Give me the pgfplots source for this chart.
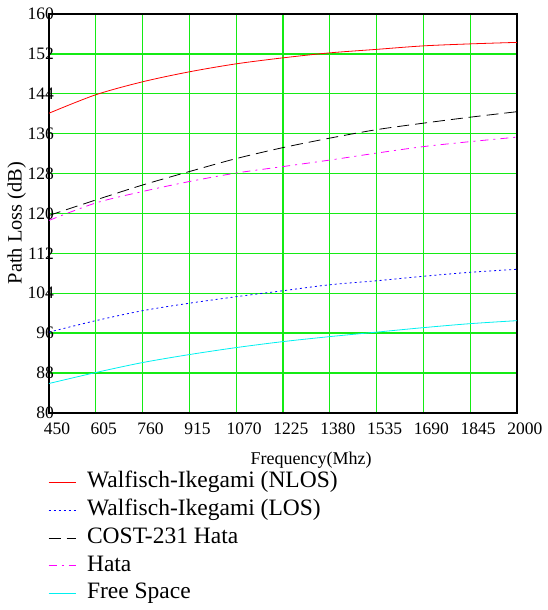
\documentclass[border=0pt]{standalone}
\usepackage{fontspec}
\setmainfont{Liberation Serif}
\usepackage{pgfplots}
\pgfplotsset{compat=1.18}

\definecolor{gridgreen}{RGB}{20,235,20}
\definecolor{nlosred}{RGB}{255,0,0}
\definecolor{losblue}{RGB}{0,0,255}
\definecolor{magentaline}{RGB}{255,0,255}
\definecolor{cyanline}{RGB}{0,240,240}

\begin{document}
\begin{tikzpicture}
\begin{axis}[
  scale only axis,
  width=468pt, height=399pt,
  xmin=450, xmax=2000, ymin=80, ymax=160,
  xtick={450,605,...,2000},
  ytick={80,88,...,160},
  grid=major,
  major grid style={gridgreen, line width=1.3pt},
  major tick length=0pt,
  axis line style={black, line width=1.2pt},
  /pgf/number format/assume math mode=true,
  /pgf/number format/1000 sep={},
  xticklabel={\pgfmathprintnumber[assume math mode=true]{\tick}},
  yticklabel={\pgfmathprintnumber[assume math mode=true]{\tick}},
  tick label style={font=\fontsize{17.5}{20}\selectfont},
  xticklabel style={anchor=north, inner sep=0pt, yshift=-10pt, xshift=8pt},
  yticklabel style={anchor=east, inner sep=0pt, xshift=5pt},
  xlabel={Frequency(Mhz)},
  ylabel={Path Loss (dB)},
  xlabel style={font=\fontsize{18}{21}\selectfont,
    at={(axis description cs:0.56,-0.098)}, anchor=north, inner sep=0pt},
  ylabel style={font=\fontsize{20.4}{23}\selectfont,
    at={(axis description cs:-0.069,0.476)}, anchor=center, inner sep=0pt},
  legend cell align=left,
  legend style={
    at={(axis description cs:-0.002,-0.145)}, anchor=north west,
    draw=none, fill=none, inner sep=0pt,
    font=\fontsize{23.5}{27}\selectfont,
    row sep=4.2pt, column sep=11pt,
    nodes={inner sep=0pt, text height=17pt, text depth=6.5pt},
  },
  legend image code/.code={\draw[#1] (0pt,0pt) -- (27pt,0pt);},
  extra description/.code={
    \path (axis description cs:-0.1047,1.035);
    \path (axis description cs:1.066,-0.494);
  },
]
\addplot[nlosred, line width=0.8pt, smooth] coordinates {
  (450,140.1) (605,143.8) (760,146.4) (915,148.4) (1070,150.0)
  (1225,151.2) (1380,152.2) (1535,152.9) (1690,153.6) (1845,154.0) (2000,154.3)};
\addlegendentry{Walfisch-Ikegami (NLOS)}
\addplot[losblue, line width=0.8pt, dash pattern=on 2pt off 3pt, smooth] coordinates {
  (450,96.2) (605,98.5) (760,100.5) (915,102.0) (1070,103.3)
  (1225,104.5) (1380,105.7) (1535,106.5) (1690,107.4) (1845,108.2) (2000,108.8)};
\addlegendentry{Walfisch-Ikegami (LOS)}
\addplot[black, line width=0.8pt, dash pattern=on 12pt off 6pt, smooth] coordinates {
  (450,119.6) (605,122.7) (760,125.7) (915,128.4) (1070,131.0)
  (1225,133.2) (1380,135.1) (1535,136.8) (1690,138.1) (1845,139.3) (2000,140.4)};
\addlegendentry{COST-231 Hata}
\addplot[magentaline, line width=0.8pt, dash pattern=on 8pt off 5pt on 2pt off 5pt, smooth] coordinates {
  (450,118.6) (605,122.1) (760,124.4) (915,126.4) (1070,128.1)
  (1225,129.4) (1380,130.7) (1535,132.1) (1690,133.4) (1845,134.4) (2000,135.3)};
\addlegendentry{Hata}
\addplot[cyanline, line width=0.8pt, smooth] coordinates {
  (450,85.9) (605,88.1) (760,90.1) (915,91.7) (1070,93.1)
  (1225,94.3) (1380,95.3) (1535,96.2) (1690,97.1) (1845,97.9) (2000,98.5)};
\addlegendentry{Free Space}
\end{axis}
\end{tikzpicture}
\end{document}
